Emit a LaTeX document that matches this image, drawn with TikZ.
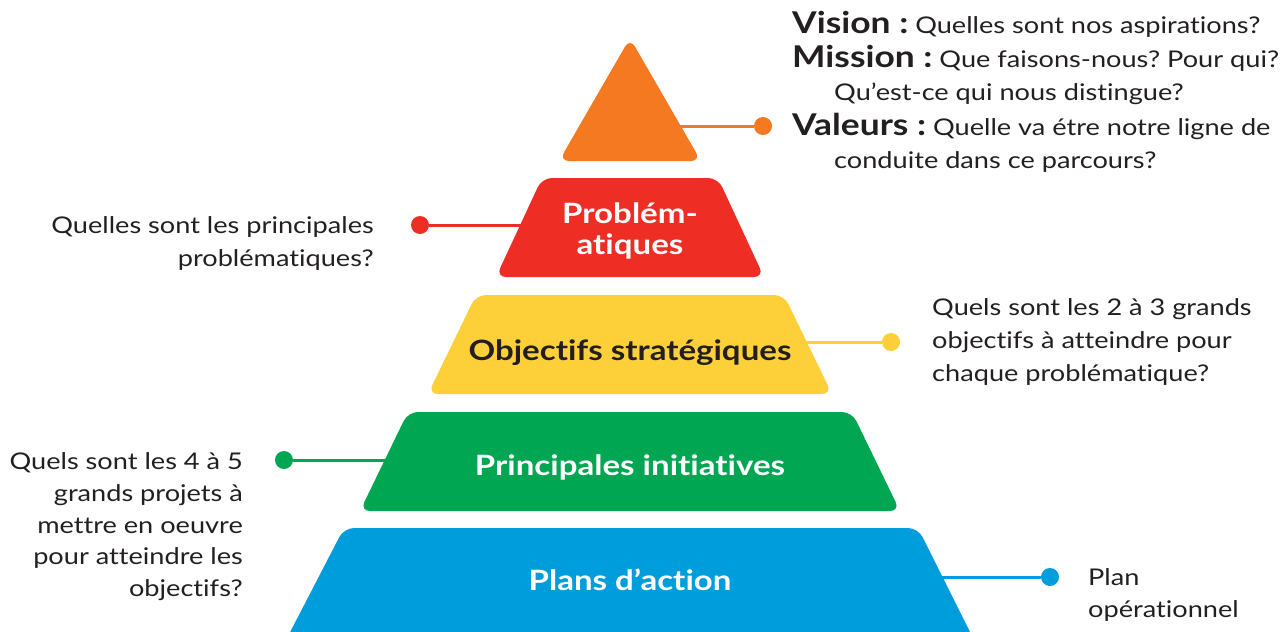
\documentclass[tikz,border=0pt]{standalone}
\usepackage{fontspec}
\setmainfont{Lato}[FakeStretch=1.18,Ligatures=NoCommon]
\newcommand\headfont{\fontsize{30}{34}\selectfont\bfseries}
\newcommand\toptext{\fontsize{23}{34}\selectfont}
\frenchspacing
\begin{document}
\definecolor{cOrange}{HTML}{F47920}
\definecolor{cRed}{HTML}{EE2D24}
\definecolor{cYellow}{HTML}{FDD03A}
\definecolor{cGreen}{HTML}{00A651}
\definecolor{cBlue}{HTML}{009DDC}
\definecolor{ink}{HTML}{231F20}
\begin{tikzpicture}[x=1pt,y=-1pt,
  layer/.style={rounded corners=10pt},
  dot/.style={circle,fill=#1,inner sep=0pt,minimum size=18pt},
  link/.style={draw=#1,line width=3pt},
  note/.style={inner sep=0pt,text=ink,font=\fontsize{23}{30}\selectfont},
  topline/.style={inner sep=0pt,text=ink,font=\toptext},
  label/.style={inner sep=0pt,font=\fontsize{28}{33}\selectfont\bfseries}]
\useasboundingbox (0,0) rectangle (1286,632);

% dots and connectors (drawn first so that the layers cover their inner ends)
\node[dot=cOrange] (dO) at (763,126) {};
\coordinate (inO) at (660,126);
\draw[link=cOrange] (dO) -- (inO);

\node[dot=cRed] (dR) at (420,225) {};
\coordinate (inR) at (560,225);
\draw[link=cRed] (dR) -- (inR);

\node[dot=cYellow] (dY) at (891,342) {};
\coordinate (inY) at (760,342);
\draw[link=cYellow] (dY) -- (inY);

\node[dot=cGreen] (dG) at (284,460) {};
\coordinate (inG) at (440,460);
\draw[link=cGreen] (dG) -- (inG);

\node[dot=cBlue] (dB) at (1050,577) {};
\coordinate (inB) at (880,577);
\draw[link=cBlue] (dB) -- (inB);

% pyramid layers
\fill[layer,cOrange] (630,38) -- (701,161) -- (559,161) -- cycle;
\fill[layer,cRed] (542,178) -- (718,178) -- (764,277) -- (496,277) -- cycle;
\fill[layer,cYellow] (476,295) -- (784,295) -- (832,394) -- (428,394) -- cycle;
\fill[layer,cGreen] (408,412) -- (852,412) -- (900,511) -- (360,511) -- cycle;
\fill[layer,cBlue] (344,528) -- (918,528) -- (974,640) -- (286,640) -- cycle;

% layer titles
\node[label,text=white,anchor=base] (tR1) at (630,223) {Problém-};
\node[label,text=white,anchor=base] (tR2) at (630,254) {atiques};
\node[label,text=ink,anchor=base] (tY) at (630,360) {Objectifs stratégiques};
\node[label,text=white,anchor=base] (tG) at (630,475) {Principales initiatives};
\node[label,text=white,anchor=base] (tB) at (630,590) {Plans d’action};

% vision, mission, values
\node[topline,anchor=base west] (v1) at (792,33) {{\headfont Vision :} Quelles sont nos aspirations?};
\node[topline,anchor=base west] (m1) at (792,67) {{\headfont Mission :} Que faisons-nous? Pour qui?};
\node[topline,anchor=base west] (m2) at (834,100) {Qu’est-ce qui nous distingue?};
\node[topline,anchor=base west] (va1) at (792,135) {{\headfont Valeurs :} Quelle va étre notre ligne de};
\node[topline,anchor=base west] (va2) at (834,168) {conduite dans ce parcours?};

% questions beside the layers
\node[note,anchor=base east] (qR1) at (374,233) {Quelles sont les principales};
\node[note,anchor=base east] (qR2) at (374,266) {problématiques?};

\node[note,anchor=base west] (qY1) at (932,315) {Quels sont les 2 à 3 grands};
\node[note,anchor=base west] (qY2) at (932,348) {objectifs à atteindre pour};
\node[note,anchor=base west] (qY3) at (932,381) {chaque problématique?};

\node[note,anchor=base east] (qG1) at (243,469) {Quels sont les 4 à 5};
\node[note,anchor=base east] (qG2) at (243,501) {grands projets à};
\node[note,anchor=base east] (qG3) at (243,533) {mettre en oeuvre};
\node[note,anchor=base east] (qG4) at (243,564) {pour atteindre les};
\node[note,anchor=base east] (qG5) at (243,596) {objectifs?};

\node[note,anchor=base west] (qB1) at (1088,585) {Plan};
\node[note,anchor=base west] (qB2) at (1088,617) {opérationnel};
\end{tikzpicture}
\end{document}
